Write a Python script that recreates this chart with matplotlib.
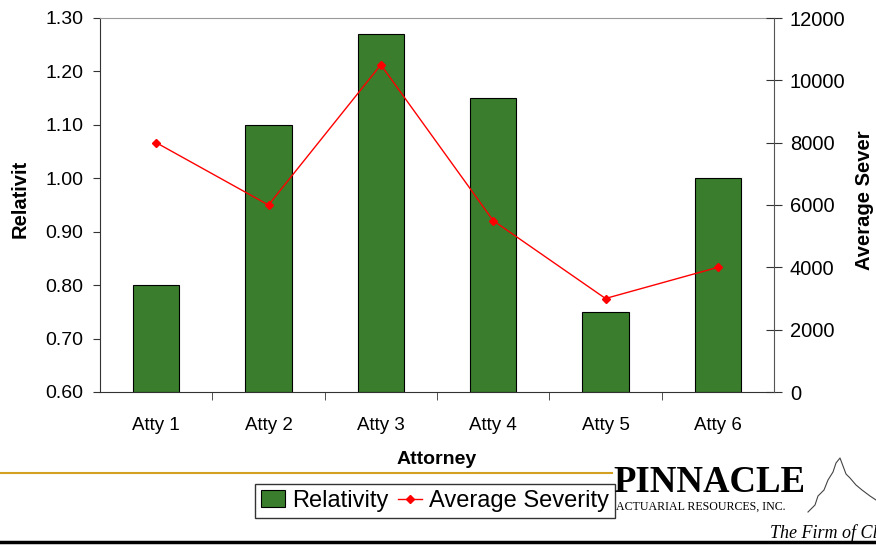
import matplotlib
matplotlib.use("Agg")
import matplotlib.pyplot as plt
from matplotlib.lines import Line2D
from matplotlib.patches import Patch

categories = ["Atty 1", "Atty 2", "Atty 3", "Atty 4", "Atty 5", "Atty 6"]
relativity = [0.80, 1.10, 1.27, 1.15, 0.75, 1.00]
avg_severity = [8000, 6000, 10500, 5500, 3000, 4000]
left_ticks = [0.60, 0.70, 0.80, 0.90, 1.00, 1.10, 1.20, 1.30]
right_ticks = [0, 2000, 4000, 6000, 8000, 10000, 12000]

plt.rcParams['font.family'] = ['Liberation Sans', 'DejaVu Sans']

W, H = 876, 546
fig = plt.figure(figsize=(W / 100, H / 100), dpi=100)
ax = fig.add_axes([100 / W, 1 - 392 / H, 674 / W, 374 / H])

x = list(range(len(categories)))
green = "#3a7d2c"
ax.bar(x, [r - 0.60 for r in relativity], bottom=0.60, width=0.41,
       color=green, edgecolor="black", linewidth=0.8, zorder=2)
ax.set_xlim(-0.5, len(categories) - 0.5)
ax.set_ylim(0.60, 1.30)
ax.set_yticks(left_ticks)
ax.set_yticklabels([f"{t:.2f}" for t in left_ticks], fontsize=14)
ax.set_xticks(x)
ax.set_xticklabels(categories, fontsize=13.5)
ax.tick_params(axis='x', length=0, pad=18)
ax.set_xticks([i + 0.5 for i in x[:-1]], minor=True)
ax.tick_params(axis='x', which='minor', length=6, direction='out', color='#333333')
ax.tick_params(axis='y', length=5, direction='out', color='#333333', pad=7)
ax.set_xlabel("Attorney", fontsize=14, fontweight='bold', labelpad=12)
ax.set_ylabel("Relativit", fontsize=14.5, fontweight='bold', va='center')
ax.yaxis.set_label_coords((20 - 100) / 674, (392 - 199) / 374)
for s in ['left', 'bottom']:
    ax.spines[s].set_color('#333333')
ax.spines['top'].set_color('#999999')
ax.spines['right'].set_visible(False)

ax2 = ax.twinx()
ax2.plot(x, avg_severity, color='red', linewidth=1, marker='D', markersize=4,
         markerfacecolor='red', markeredgecolor='red', zorder=3)
ax2.set_ylim(0, 12000)
ax2.set_yticks(right_ticks)
ax2.set_yticklabels([str(t) for t in right_ticks], fontsize=14.5)
ax2.tick_params(axis='y', direction='inout', length=11, color='#333333', pad=6)
ax2.set_ylabel("Average Sever", fontsize=14.5, fontweight='bold', va='center')
ax2.yaxis.set_label_coords((865 - 100) / 674, (392 - 200) / 374)
for s in ['left', 'top', 'bottom']:
    ax2.spines[s].set_visible(False)
ax2.spines['right'].set_color('#555555')

# decorative lines
fig.add_artist(Line2D([0, 612 / W], [1 - 473 / H] * 2, color='#d4a020', linewidth=1.5))
fig.add_artist(Line2D([0, 1], [1 - 542 / H] * 2, color='black', linewidth=2.5))

# legend
handles = [Patch(facecolor=green, edgecolor='black', linewidth=0.8),
           Line2D([0], [0], color='red', marker='D', markersize=4, linewidth=1)]
fig.legend(handles, ["Relativity", "Average Severity"], loc='center',
           bbox_to_anchor=(435 / W, 1 - 501 / H), ncol=2, fontsize=17,
           frameon=True, fancybox=False, edgecolor='black', handlelength=1.0,
           handletextpad=0.3, columnspacing=0.4, borderpad=0.25, borderaxespad=0)

# logo text
fig.text(613 / W, 1 - 482 / H, "PINNACLE", family='Liberation Serif',
         fontsize=26.5, fontweight='bold', va='center', ha='left')
fig.text(616 / W, 1 - 507 / H, "ACTUARIAL RESOURCES, INC.", family='Liberation Serif',
         fontsize=8.6, va='center', ha='left')
fig.text(770 / W, 1 - 533 / H, "The Firm of Cl", family='Liberation Serif',
         fontsize=13, style='italic', va='center', ha='left')
mx = [808, 815, 818, 824, 828, 833, 836, 840, 843, 846, 850, 856, 862, 870, 876]
my = [512, 505, 496, 490, 480, 472, 463, 458, 466, 474, 478, 485, 490, 496, 500]
fig.add_artist(Line2D([v / W for v in mx], [1 - v / H for v in my],
                      color='#444444', linewidth=0.8))

fig.savefig("out.png", dpi=100)
